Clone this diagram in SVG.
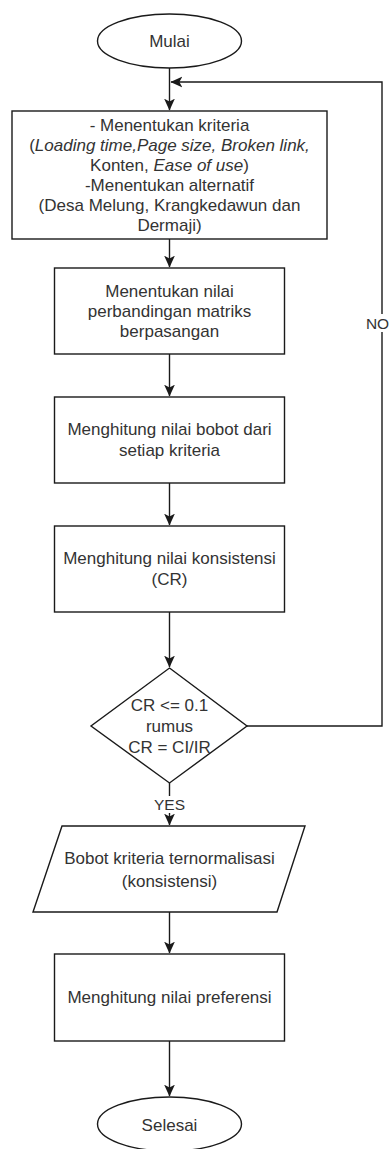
<svg xmlns="http://www.w3.org/2000/svg" width="390" height="1149" viewBox="0 0 390 1149">
<style>
.s{fill:#fff;stroke:#1a1a1a;stroke-width:1.4}
.c{fill:none;stroke:#1a1a1a;stroke-width:1.4}
text{font-family:"Liberation Sans",Arial,sans-serif;font-size:17px;fill:#333;text-anchor:middle}
.l{font-size:15.5px}
.i{font-style:italic}
</style>
<defs>
<marker id="a" markerUnits="userSpaceOnUse" markerWidth="12" markerHeight="12" viewBox="0 0 10 10" refX="9.5" refY="5" orient="auto">
<path d="M0,0.5 L10,5 L0,9.5 L2.5,5 z" fill="#1a1a1a"/>
</marker>
</defs>
<rect width="390" height="1149" fill="#fff"/>
<g id="connectors">
<line class="c" x1="169.5" y1="68" x2="169.5" y2="110" marker-end="url(#a)"/>
<line class="c" x1="169.5" y1="239" x2="169.5" y2="267" marker-end="url(#a)"/>
<line class="c" x1="169.5" y1="354" x2="169.5" y2="396" marker-end="url(#a)"/>
<line class="c" x1="169.5" y1="483" x2="169.5" y2="525" marker-end="url(#a)"/>
<line class="c" x1="169.5" y1="612" x2="169.5" y2="667" marker-end="url(#a)"/>
<polyline class="c" points="247,726 382,726 382,82 171,82" marker-end="url(#a)"/>
<line class="c" x1="169.5" y1="783" x2="169.5" y2="825" marker-end="url(#a)"/>
<line class="c" x1="169.5" y1="912" x2="169.5" y2="953" marker-end="url(#a)"/>
<line class="c" x1="169.5" y1="1041" x2="169.5" y2="1096" marker-end="url(#a)"/>
<rect x="366" y="314" width="24" height="18" fill="#fff"/>
<text class="l" x="377.5" y="329">NO</text>
<rect x="153" y="796" width="33" height="17" fill="#fff"/>
<text class="l" x="169.5" y="810">YES</text>
</g>
<g id="mulai">
<ellipse class="s" cx="169.5" cy="41" rx="72" ry="27"/>
<text x="169.5" y="47">Mulai</text>
</g>
<g id="kriteria">
<rect class="s" x="12" y="111" width="315" height="128"/>
<text x="169.5" y="131">- Menentukan kriteria</text>
<text x="169.5" y="151">(<tspan class="i">Loading time,Page size, Broken link,</tspan></text>
<text x="169.5" y="171">Konten, <tspan class="i">Ease of use</tspan>)</text>
<text x="169.5" y="191">-Menentukan alternatif</text>
<text x="169.5" y="211">(Desa Melung, Krangkedawun dan</text>
<text x="169.5" y="231">Dermaji)</text>
</g>
<g id="matriks">
<rect class="s" x="54.5" y="268" width="230" height="86"/>
<text x="169.5" y="297">Menentukan nilai</text>
<text x="169.5" y="317">perbandingan matriks</text>
<text x="169.5" y="337">berpasangan</text>
</g>
<g id="bobot">
<rect class="s" x="54.5" y="397" width="230" height="86"/>
<text x="169.5" y="435">Menghitung nilai bobot dari</text>
<text x="169.5" y="456">setiap kriteria</text>
</g>
<g id="konsistensi">
<rect class="s" x="54.5" y="526" width="230" height="86"/>
<text x="169.5" y="564">Menghitung nilai konsistensi</text>
<text x="169.5" y="585">(CR)</text>
</g>
<g id="cr">
<polygon class="s" points="169.5,668 247,726 169.5,783 91,726"/>
<text x="169.5" y="711">CR &lt;= 0.1</text>
<text x="169.5" y="732">rumus</text>
<text x="169.5" y="753">CR = CI/IR</text>
</g>
<g id="normalisasi">
<polygon class="s" points="62,826 305,826 277,912 33,912"/>
<text x="169.5" y="864">Bobot kriteria ternormalisasi</text>
<text x="169.5" y="887">(konsistensi)</text>
</g>
<g id="preferensi">
<rect class="s" x="54.5" y="954" width="230" height="87"/>
<text x="169.5" y="1003">Menghitung nilai preferensi</text>
</g>
<g id="selesai">
<ellipse class="s" cx="169.5" cy="1124" rx="72" ry="27"/>
<text x="169.5" y="1131">Selesai</text>
</g>
</svg>
